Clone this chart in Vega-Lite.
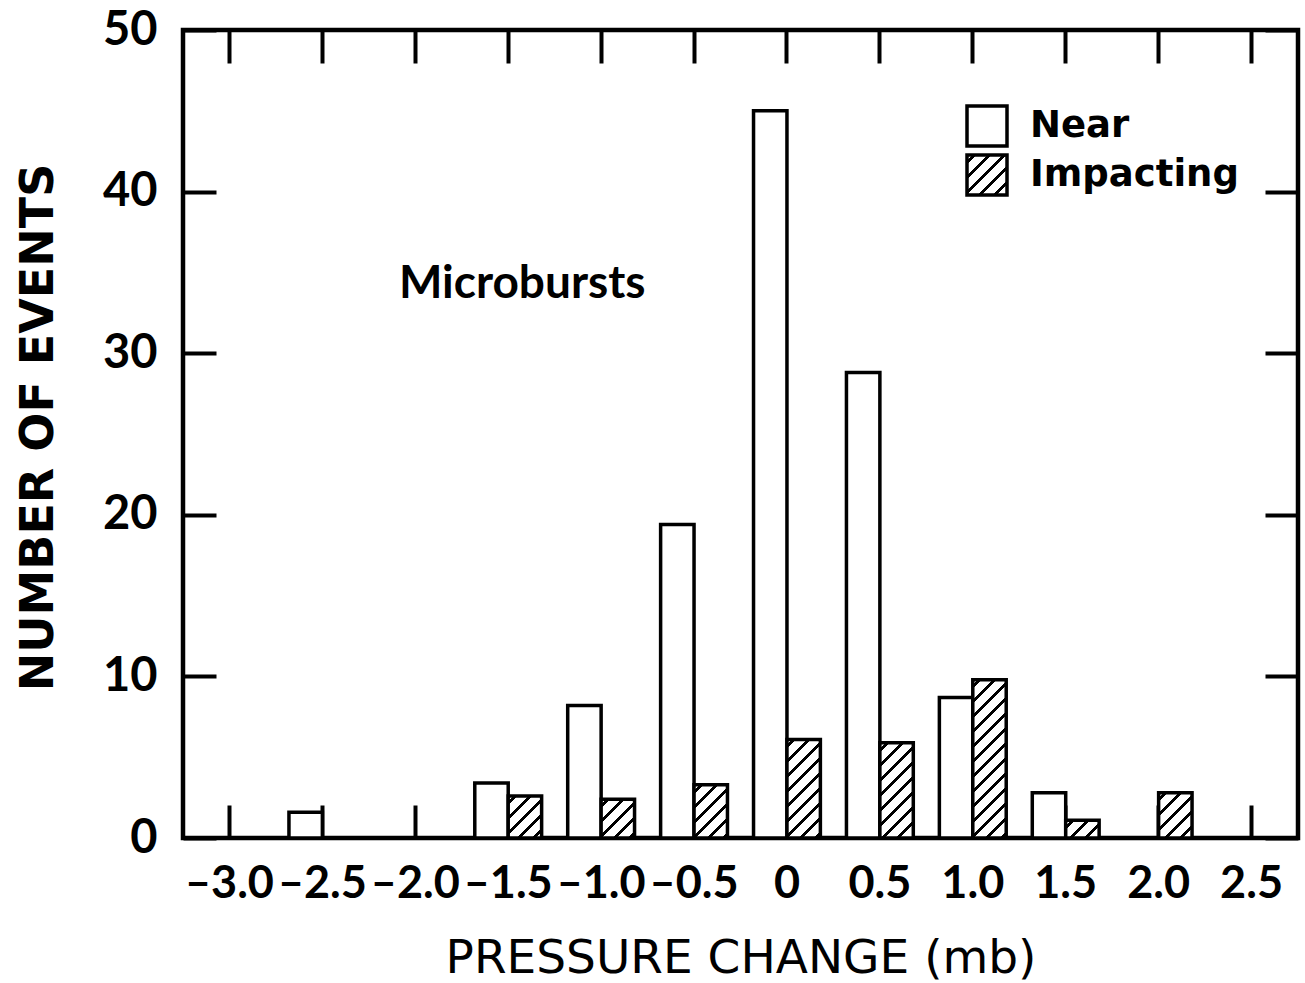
{
  "$schema": "https://vega.github.io/schema/vega-lite/v6.json",
  "width": 1115,
  "height": 808,
  "autosize": "none",
  "padding": {"left": 183, "top": 30, "right": 7, "bottom": 145},
  "background": "white",
  "config": {
    "view": {"stroke": "black", "strokeWidth": 4.5},
    "axis": {"domain": false, "grid": false, "tickColor": "black", "tickWidth": 4, "labelColor": "black", "titleColor": "black", "labelOverlap": false}
  },
  "data": {
    "values": [
      {"x": "-2.5", "type": "Near", "value": 1.6},
      {"x": "-1.5", "type": "Near", "value": 3.4},
      {"x": "-1.5", "type": "Impacting", "value": 2.6},
      {"x": "-1.0", "type": "Near", "value": 8.2},
      {"x": "-1.0", "type": "Impacting", "value": 2.4},
      {"x": "-0.5", "type": "Near", "value": 19.4},
      {"x": "-0.5", "type": "Impacting", "value": 3.3},
      {"x": "0", "type": "Near", "value": 45.0},
      {"x": "0", "type": "Impacting", "value": 6.1},
      {"x": "0.5", "type": "Near", "value": 28.8},
      {"x": "0.5", "type": "Impacting", "value": 5.9},
      {"x": "1.0", "type": "Near", "value": 8.7},
      {"x": "1.0", "type": "Impacting", "value": 9.8},
      {"x": "1.5", "type": "Near", "value": 2.8},
      {"x": "1.5", "type": "Impacting", "value": 1.1},
      {"x": "2.0", "type": "Impacting", "value": 2.8}
    ]
  },
  "layer": [
    {
      "mark": {"type": "bar", "stroke": "black", "strokeWidth": 3.5, "strokeJoin": "miter"},
      "encoding": {
        "x": {
          "field": "x", "type": "ordinal",
          "scale": {"domain": ["-3.0","-2.5","-2.0","-1.5","-1.0","-0.5","0","0.5","1.0","1.5","2.0","2.5"], "paddingInner": 0, "paddingOuter": 0},
          "axis": {
            "orient": "bottom", "bandPosition": 0.5, "tickSize": -33, "labelAngle": 0,
            "labelFont": "Lato", "labelFontWeight": "bold", "labelFontSize": 45, "labelPadding": 92, "labelBaseline": "alphabetic",
            "labelExpr": "replace(datum.label, '-', '–')",
            "title": "PRESSURE CHANGE (mb)", "titleFont": "DejaVu Sans", "titleFontWeight": "normal", "titleFontSize": 47,
            "titleBaseline": "alphabetic", "titleY": 134, "titleX": 557.5, "titleAlign": "center"
          }
        },
        "xOffset": {"field": "type", "type": "nominal", "scale": {"domain": ["Near", "Impacting"], "paddingInner": 0, "paddingOuter": 0.39}},
        "y": {
          "field": "value", "type": "quantitative",
          "scale": {"domain": [0, 50], "nice": false},
          "axis": {
            "orient": "left", "values": [0, 10, 20, 30, 40, 50], "tickSize": -33,
            "labelFont": "Lato", "labelFontWeight": "bold", "labelFontSize": 47, "labelPadding": 59,
            "title": "NUMBER OF EVENTS", "titleFont": "DejaVu Sans", "titleFontWeight": "bold", "titleFontSize": 46,
            "titleAngle": 270, "titleBaseline": "alphabetic", "titleAlign": "center", "titleX": -131, "titleY": 397
          }
        },
        "fill": {
          "field": "type", "type": "nominal",
          "scale": {
            "domain": ["Near", "Impacting"],
            "range": ["white", {"expr": "{gradient: 'linear', x1: 0, y1: 0, x2: 1, y2: 1, stops: [{offset: 0, color: '#fff'}, {offset: 0.0688, color: '#fff'}, {offset: 0.0688, color: '#000'}, {offset: 0.1188, color: '#000'}, {offset: 0.1188, color: '#fff'}, {offset: 0.2563, color: '#fff'}, {offset: 0.2563, color: '#000'}, {offset: 0.3063, color: '#000'}, {offset: 0.3063, color: '#fff'}, {offset: 0.4438, color: '#fff'}, {offset: 0.4438, color: '#000'}, {offset: 0.4938, color: '#000'}, {offset: 0.4938, color: '#fff'}, {offset: 0.6313, color: '#fff'}, {offset: 0.6313, color: '#000'}, {offset: 0.6813, color: '#000'}, {offset: 0.6813, color: '#fff'}, {offset: 0.8188, color: '#fff'}, {offset: 0.8188, color: '#000'}, {offset: 0.8688, color: '#000'}, {offset: 0.8688, color: '#fff'}, {offset: 1, color: '#fff'}]}"}]
          },
          "legend": {
            "orient": "none", "legendX": 782, "legendY": 74, "title": null, "padding": 0,
            "symbolType": "square", "symbolSize": 1600, "symbolStrokeColor": "black", "symbolStrokeWidth": 3.5,
            "labelFont": "DejaVu Sans", "labelFontWeight": "bold", "labelFontSize": 37, "labelColor": "black",
            "labelOffset": 21, "rowPadding": -5, "labelLimit": 400
          },
          "condition": [
            {"test": "datum.type=='Impacting' && datum.x=='-1.5'", "value": {"gradient": "linear", "x1": 0, "y1": 0, "x2": 0.8746, "y2": 1.0997, "stops": [
              {"offset": 0, "color": "#fff"},
              {"offset": 0.0729, "color": "#fff"}, {"offset": 0.0729, "color": "#000"}, {"offset": 0.1259, "color": "#000"}, {"offset": 0.1259, "color": "#fff"},
              {"offset": 0.2717, "color": "#fff"}, {"offset": 0.2717, "color": "#000"}, {"offset": 0.3248, "color": "#000"}, {"offset": 0.3248, "color": "#fff"},
              {"offset": 0.4706, "color": "#fff"}, {"offset": 0.4706, "color": "#000"}, {"offset": 0.5236, "color": "#000"}, {"offset": 0.5236, "color": "#fff"},
              {"offset": 0.6694, "color": "#fff"}, {"offset": 0.6694, "color": "#000"}, {"offset": 0.7224, "color": "#000"}, {"offset": 0.7224, "color": "#fff"},
              {"offset": 0.8682, "color": "#fff"}, {"offset": 0.8682, "color": "#000"}, {"offset": 0.9213, "color": "#000"}, {"offset": 0.9213, "color": "#fff"},
              {"offset": 1, "color": "#fff"}
            ]}},
            {"test": "datum.type=='Impacting' && datum.x=='-1.0'", "value": {"gradient": "linear", "x1": 0, "y1": 0, "x2": 0.9207, "y2": 1.0683, "stops": [
              {"offset": 0, "color": "#fff"},
              {"offset": 0.0762, "color": "#fff"}, {"offset": 0.0762, "color": "#000"}, {"offset": 0.1316, "color": "#000"}, {"offset": 0.1316, "color": "#fff"},
              {"offset": 0.2839, "color": "#fff"}, {"offset": 0.2839, "color": "#000"}, {"offset": 0.3393, "color": "#000"}, {"offset": 0.3393, "color": "#fff"},
              {"offset": 0.4917, "color": "#fff"}, {"offset": 0.4917, "color": "#000"}, {"offset": 0.5471, "color": "#000"}, {"offset": 0.5471, "color": "#fff"},
              {"offset": 0.6994, "color": "#fff"}, {"offset": 0.6994, "color": "#000"}, {"offset": 0.7548, "color": "#000"}, {"offset": 0.7548, "color": "#fff"},
              {"offset": 0.9072, "color": "#fff"}, {"offset": 0.9072, "color": "#000"}, {"offset": 0.9626, "color": "#000"}, {"offset": 0.9626, "color": "#fff"},
              {"offset": 1, "color": "#fff"}
            ]}},
            {"test": "datum.type=='Impacting' && datum.x=='-0.5'", "value": {"gradient": "linear", "x1": 0, "y1": 0, "x2": 0.7319, "y2": 1.1680, "stops": [
              {"offset": 0, "color": "#fff"},
              {"offset": 0.0634, "color": "#fff"}, {"offset": 0.0634, "color": "#000"}, {"offset": 0.1095, "color": "#000"}, {"offset": 0.1095, "color": "#fff"},
              {"offset": 0.2363, "color": "#fff"}, {"offset": 0.2363, "color": "#000"}, {"offset": 0.2824, "color": "#000"}, {"offset": 0.2824, "color": "#fff"},
              {"offset": 0.4092, "color": "#fff"}, {"offset": 0.4092, "color": "#000"}, {"offset": 0.4553, "color": "#000"}, {"offset": 0.4553, "color": "#fff"},
              {"offset": 0.5821, "color": "#fff"}, {"offset": 0.5821, "color": "#000"}, {"offset": 0.6282, "color": "#000"}, {"offset": 0.6282, "color": "#fff"},
              {"offset": 0.7550, "color": "#fff"}, {"offset": 0.7550, "color": "#000"}, {"offset": 0.8012, "color": "#000"}, {"offset": 0.8012, "color": "#fff"},
              {"offset": 0.9280, "color": "#fff"}, {"offset": 0.9280, "color": "#000"}, {"offset": 0.9741, "color": "#000"}, {"offset": 0.9741, "color": "#fff"},
              {"offset": 1, "color": "#fff"}
            ]}},
            {"test": "datum.type=='Impacting' && datum.x=='0'", "value": {"gradient": "linear", "x1": 0, "y1": 0, "x2": 0.4072, "y2": 1.2010, "stops": [
              {"offset": 0, "color": "#fff"},
              {"offset": 0.0417, "color": "#fff"}, {"offset": 0.0417, "color": "#000"}, {"offset": 0.0720, "color": "#000"}, {"offset": 0.0720, "color": "#fff"},
              {"offset": 0.1553, "color": "#fff"}, {"offset": 0.1553, "color": "#000"}, {"offset": 0.1856, "color": "#000"}, {"offset": 0.1856, "color": "#fff"},
              {"offset": 0.2689, "color": "#fff"}, {"offset": 0.2689, "color": "#000"}, {"offset": 0.2992, "color": "#000"}, {"offset": 0.2992, "color": "#fff"},
              {"offset": 0.3826, "color": "#fff"}, {"offset": 0.3826, "color": "#000"}, {"offset": 0.4129, "color": "#000"}, {"offset": 0.4129, "color": "#fff"},
              {"offset": 0.4962, "color": "#fff"}, {"offset": 0.4962, "color": "#000"}, {"offset": 0.5265, "color": "#000"}, {"offset": 0.5265, "color": "#fff"},
              {"offset": 0.6098, "color": "#fff"}, {"offset": 0.6098, "color": "#000"}, {"offset": 0.6402, "color": "#000"}, {"offset": 0.6402, "color": "#fff"},
              {"offset": 0.7235, "color": "#fff"}, {"offset": 0.7235, "color": "#000"}, {"offset": 0.7538, "color": "#000"}, {"offset": 0.7538, "color": "#fff"},
              {"offset": 0.8371, "color": "#fff"}, {"offset": 0.8371, "color": "#000"}, {"offset": 0.8674, "color": "#000"}, {"offset": 0.8674, "color": "#fff"},
              {"offset": 0.9508, "color": "#fff"}, {"offset": 0.9508, "color": "#000"}, {"offset": 0.9811, "color": "#000"}, {"offset": 0.9811, "color": "#fff"},
              {"offset": 1, "color": "#fff"}
            ]}},
            {"test": "datum.type=='Impacting' && datum.x=='0.5'", "value": {"gradient": "linear", "x1": 0, "y1": 0, "x2": 0.4216, "y2": 1.2028, "stops": [
              {"offset": 0, "color": "#fff"},
              {"offset": 0.0427, "color": "#fff"}, {"offset": 0.0427, "color": "#000"}, {"offset": 0.0738, "color": "#000"}, {"offset": 0.0738, "color": "#fff"},
              {"offset": 0.1592, "color": "#fff"}, {"offset": 0.1592, "color": "#000"}, {"offset": 0.1903, "color": "#000"}, {"offset": 0.1903, "color": "#fff"},
              {"offset": 0.2757, "color": "#fff"}, {"offset": 0.2757, "color": "#000"}, {"offset": 0.3068, "color": "#000"}, {"offset": 0.3068, "color": "#fff"},
              {"offset": 0.3922, "color": "#fff"}, {"offset": 0.3922, "color": "#000"}, {"offset": 0.4233, "color": "#000"}, {"offset": 0.4233, "color": "#fff"},
              {"offset": 0.5087, "color": "#fff"}, {"offset": 0.5087, "color": "#000"}, {"offset": 0.5398, "color": "#000"}, {"offset": 0.5398, "color": "#fff"},
              {"offset": 0.6252, "color": "#fff"}, {"offset": 0.6252, "color": "#000"}, {"offset": 0.6563, "color": "#000"}, {"offset": 0.6563, "color": "#fff"},
              {"offset": 0.7417, "color": "#fff"}, {"offset": 0.7417, "color": "#000"}, {"offset": 0.7728, "color": "#000"}, {"offset": 0.7728, "color": "#fff"},
              {"offset": 0.8582, "color": "#fff"}, {"offset": 0.8582, "color": "#000"}, {"offset": 0.8893, "color": "#000"}, {"offset": 0.8893, "color": "#fff"},
              {"offset": 1, "color": "#fff"}
            ]}},
            {"test": "datum.type=='Impacting' && datum.x=='1.0'", "value": {"gradient": "linear", "x1": 0, "y1": 0, "x2": 0.2447, "y2": 1.1594, "stops": [
              {"offset": 0, "color": "#fff"},
              {"offset": 0.0287, "color": "#fff"}, {"offset": 0.0287, "color": "#000"}, {"offset": 0.0495, "color": "#000"}, {"offset": 0.0495, "color": "#fff"},
              {"offset": 0.1069, "color": "#fff"}, {"offset": 0.1069, "color": "#000"}, {"offset": 0.1277, "color": "#000"}, {"offset": 0.1277, "color": "#fff"},
              {"offset": 0.1851, "color": "#fff"}, {"offset": 0.1851, "color": "#000"}, {"offset": 0.2060, "color": "#000"}, {"offset": 0.2060, "color": "#fff"},
              {"offset": 0.2633, "color": "#fff"}, {"offset": 0.2633, "color": "#000"}, {"offset": 0.2842, "color": "#000"}, {"offset": 0.2842, "color": "#fff"},
              {"offset": 0.3415, "color": "#fff"}, {"offset": 0.3415, "color": "#000"}, {"offset": 0.3624, "color": "#000"}, {"offset": 0.3624, "color": "#fff"},
              {"offset": 0.4197, "color": "#fff"}, {"offset": 0.4197, "color": "#000"}, {"offset": 0.4406, "color": "#000"}, {"offset": 0.4406, "color": "#fff"},
              {"offset": 0.4979, "color": "#fff"}, {"offset": 0.4979, "color": "#000"}, {"offset": 0.5188, "color": "#000"}, {"offset": 0.5188, "color": "#fff"},
              {"offset": 0.5762, "color": "#fff"}, {"offset": 0.5762, "color": "#000"}, {"offset": 0.5970, "color": "#000"}, {"offset": 0.5970, "color": "#fff"},
              {"offset": 0.6544, "color": "#fff"}, {"offset": 0.6544, "color": "#000"}, {"offset": 0.6752, "color": "#000"}, {"offset": 0.6752, "color": "#fff"},
              {"offset": 0.7326, "color": "#fff"}, {"offset": 0.7326, "color": "#000"}, {"offset": 0.7534, "color": "#000"}, {"offset": 0.7534, "color": "#fff"},
              {"offset": 0.8108, "color": "#fff"}, {"offset": 0.8108, "color": "#000"}, {"offset": 0.8316, "color": "#000"}, {"offset": 0.8316, "color": "#fff"},
              {"offset": 0.8890, "color": "#fff"}, {"offset": 0.8890, "color": "#000"}, {"offset": 0.9098, "color": "#000"}, {"offset": 0.9098, "color": "#fff"},
              {"offset": 0.9672, "color": "#fff"}, {"offset": 0.9672, "color": "#000"}, {"offset": 0.9881, "color": "#000"}, {"offset": 0.9881, "color": "#fff"},
              {"offset": 1, "color": "#fff"}
            ]}},
            {"test": "datum.type=='Impacting' && datum.x=='1.5'", "value": {"gradient": "linear", "x1": 0, "y1": 0, "x2": 1.1941, "y2": 0.6353, "stops": [
              {"offset": 0, "color": "#fff"},
              {"offset": 0.1074, "color": "#fff"}, {"offset": 0.1074, "color": "#000"}, {"offset": 0.1855, "color": "#000"}, {"offset": 0.1855, "color": "#fff"},
              {"offset": 0.4004, "color": "#fff"}, {"offset": 0.4004, "color": "#000"}, {"offset": 0.4785, "color": "#000"}, {"offset": 0.4785, "color": "#fff"},
              {"offset": 0.6934, "color": "#fff"}, {"offset": 0.6934, "color": "#000"}, {"offset": 0.7715, "color": "#000"}, {"offset": 0.7715, "color": "#fff"},
              {"offset": 1, "color": "#fff"}
            ]}},
            {"test": "datum.type=='Impacting' && datum.x=='2.0'", "value": {"gradient": "linear", "x1": 0, "y1": 0, "x2": 0.8308, "y2": 1.1249, "stops": [
              {"offset": 0, "color": "#fff"},
              {"offset": 0.0699, "color": "#fff"}, {"offset": 0.0699, "color": "#000"}, {"offset": 0.1208, "color": "#000"}, {"offset": 0.1208, "color": "#fff"},
              {"offset": 0.2606, "color": "#fff"}, {"offset": 0.2606, "color": "#000"}, {"offset": 0.3114, "color": "#000"}, {"offset": 0.3114, "color": "#fff"},
              {"offset": 0.4513, "color": "#fff"}, {"offset": 0.4513, "color": "#000"}, {"offset": 0.5021, "color": "#000"}, {"offset": 0.5021, "color": "#fff"},
              {"offset": 0.6419, "color": "#fff"}, {"offset": 0.6419, "color": "#000"}, {"offset": 0.6928, "color": "#000"}, {"offset": 0.6928, "color": "#fff"},
              {"offset": 0.8326, "color": "#fff"}, {"offset": 0.8326, "color": "#000"}, {"offset": 0.8834, "color": "#000"}, {"offset": 0.8834, "color": "#fff"},
              {"offset": 1, "color": "#fff"}
            ]}}
          ]
        }
      }
    },
    {
      "data": {"values": [{"label": "Microbursts"}]},
      "mark": {"type": "text", "font": "Lato", "fontWeight": "bold", "fontSize": 46, "align": "center", "baseline": "alphabetic", "dx": 14, "color": "black"},
      "encoding": {
        "text": {"field": "label"},
        "x": {
          "datum": "-1.5", "type": "ordinal",
          "scale": {"domain": ["-3.0","-2.5","-2.0","-1.5","-1.0","-0.5","0","0.5","1.0","1.5","2.0","2.5"], "paddingInner": 0, "paddingOuter": 0},
          "axis": {"orient": "top", "bandPosition": 0.5, "tickSize": -33, "labels": false, "title": null}
        },
        "y": {
          "datum": 33.4, "type": "quantitative",
          "scale": {"domain": [0, 50], "nice": false},
          "axis": {"orient": "right", "values": [0, 10, 20, 30, 40, 50], "tickSize": -33, "labels": false, "title": null}
        }
      }
    }
  ],
  "resolve": {"axis": {"x": "independent", "y": "independent"}}
}
